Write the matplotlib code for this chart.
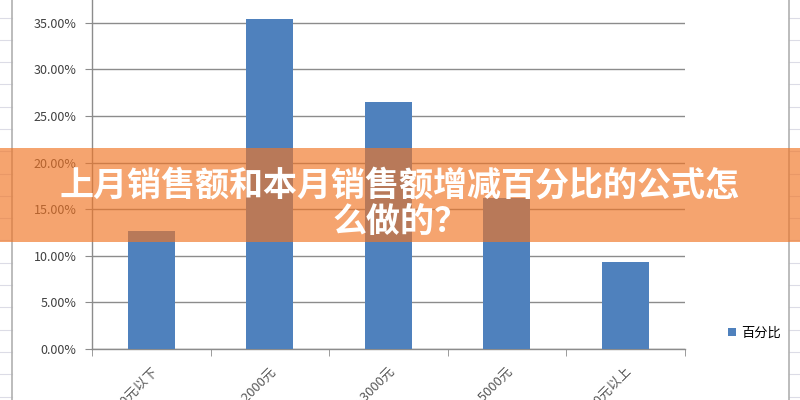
import numpy as np
import matplotlib
matplotlib.use("Agg")
import matplotlib.pyplot as plt
from matplotlib.patches import Rectangle
from matplotlib.lines import Line2D
from matplotlib.ticker import PercentFormatter

plt.rcParams['font.family'] = ['Noto Sans CJK SC', 'DejaVu Sans']

categories = ['1000元以下', '1000-2000元', '2000-3000元', '3000-5000元', '5000元以上']
values = [0.1266, 0.354, 0.265, 0.162, 0.093]
series_name = '百分比'
title_line1 = '上月销售额和本月销售额增减百分比的公式怎'
title_line2 = '么做的？'

W, H = 800, 400
fig = plt.figure(figsize=(8, 4), dpi=100, facecolor='white')

# spreadsheet cells behind the chart
for y in np.arange(17.5, 400, 22.3):
    fig.add_artist(Line2D([0, 12 / W], [1 - y / H] * 2, color='#dcdce6', lw=0.8))
    fig.add_artist(Line2D([789 / W, 1], [1 - y / H] * 2, color='#dcdce6', lw=0.8))
fig.add_artist(Line2D([12 / W] * 2, [0, 1], color='#b0b0b0', lw=1.2))
fig.add_artist(Line2D([789 / W] * 2, [0, 1], color='#b0b0b0', lw=1.2))

ax = fig.add_axes([92 / W, 1 - 349 / H, (684.5 - 92) / W, 349 / H])
x = np.arange(len(categories))
ax.bar(x, values, width=0.4, color='#4F81BD', zorder=3, label=series_name)

ax.set_xlim(-0.5, len(categories) - 0.5)
ax.set_ylim(0, 0.3745)
ax.set_yticks(np.arange(0, 0.36, 0.05))
ax.yaxis.set_major_formatter(PercentFormatter(1.0, decimals=2))
ax.grid(axis='y', color='#8c8c8c', lw=1, zorder=0)

for s in ['top', 'right']:
    ax.spines[s].set_visible(False)
for s in ['left', 'bottom']:
    ax.spines[s].set_color('#8c8c8c')
    ax.spines[s].set_linewidth(1)

ax.set_xticks(x)
ax.set_xticklabels(categories, rotation=45, ha='right', va='top',
                   rotation_mode='anchor', fontsize=9.5, color='#595959')
ax.set_xticks(np.arange(-0.5, len(categories), 1), minor=True)
ax.tick_params(axis='x', which='major', length=0, pad=11)
ax.tick_params(axis='x', which='minor', length=5, color='#8c8c8c', direction='out')
ax.tick_params(axis='y', length=5, color='#8c8c8c', labelsize=9, labelcolor='#404040', pad=6)

ax.legend(loc='center left', bbox_to_anchor=(716 / W, 1 - 333 / H),
          bbox_transform=fig.transFigure, frameon=False, fontsize=9.5,
          handlelength=0.6, handleheight=0.6, handletextpad=0.4)

# orange banner across the middle
fig.add_artist(Rectangle((0, 1 - 242 / H), 1, 94 / H, transform=fig.transFigure,
                         facecolor=(240 / 255, 117 / 255, 37 / 255), alpha=0.66,
                         edgecolor='none', zorder=10))
fig.text(0.5, 1 - 185 / H, title_line1, ha='center', va='center', color='white',
         fontsize=24.5, fontweight='heavy', zorder=11)
fig.text(0.5, 1 - 221 / H, title_line2, ha='center', va='center', color='white',
         fontsize=24.5, fontweight='heavy', zorder=11)

fig.savefig('out.png', dpi=100)
